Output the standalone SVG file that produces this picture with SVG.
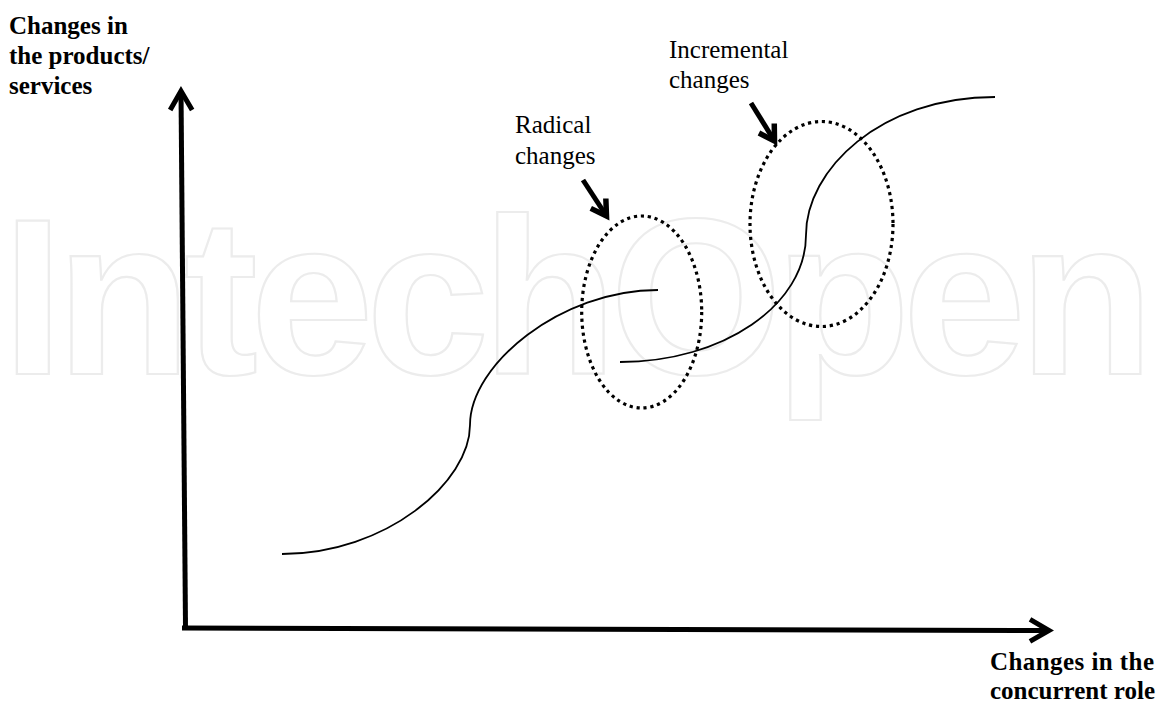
<svg xmlns="http://www.w3.org/2000/svg" width="1159" height="704" viewBox="0 0 1159 704">
<style>
.bg{fill:#ffffff}
.wm{font-family:"Liberation Sans",Arial,sans-serif;font-weight:bold;font-size:222px;fill:#ffffff;stroke:#ececec;stroke-width:2.2}
.axis{fill:none;stroke:#000;stroke-width:5}
.ptr{fill:none;stroke:#000;stroke-width:5}
.curve{fill:none;stroke:#000;stroke-width:1.8}
.ring{fill:none;stroke:#000;stroke-width:3.2;stroke-dasharray:3.2 3.8}
.lbl{font-family:"Liberation Serif","Times New Roman",serif;font-size:25px;fill:#000}
.ttl{font-family:"Liberation Serif","Times New Roman",serif;font-size:25px;font-weight:bold;fill:#000}
</style>
<defs>
<marker id="chev" markerUnits="userSpaceOnUse" viewBox="-30 -20 40 40" markerWidth="40" markerHeight="40" refX="0" refY="0" orient="auto" overflow="visible">
<path d="M-19,-11 L0,0 L-19,11" fill="none" stroke="#000" stroke-width="5"/>
</marker>
<marker id="chev-s" markerUnits="userSpaceOnUse" viewBox="-30 -20 40 40" markerWidth="40" markerHeight="40" refX="0" refY="0" orient="auto" overflow="visible">
<path d="M-15,-9 L0,0 L-15,9" fill="none" stroke="#000" stroke-width="5.5"/>
</marker>
</defs>
<rect class="bg" x="0" y="0" width="1159" height="704"/>
<g id="watermark">
<text class="wm" x="2" y="374" textLength="1152" lengthAdjust="spacing">IntechOpen</text>
</g>
<g id="connectors">
<line class="axis" x1="185.5" y1="627" x2="181" y2="91" marker-end="url(#chev)"/>
<line class="axis" x1="182" y1="628" x2="1049" y2="630.5" marker-end="url(#chev)"/>
<line class="ptr" x1="583" y1="180" x2="606.5" y2="216" marker-end="url(#chev-s)"/>
<line class="ptr" x1="751" y1="103" x2="774.5" y2="141" marker-end="url(#chev-s)"/>
</g>
<g id="curve-radical">
<path class="curve" d="M282,554 C386,554 470,482 470,425 C470,365 560,290 658,290"/>
</g>
<g id="curve-incremental">
<path class="curve" d="M620,362 C723,362 806,305 806,235 C806,170 880,97 995,97"/>
</g>
<g id="radical-zone">
<ellipse class="ring" cx="641.7" cy="312" rx="60" ry="96"/>
</g>
<g id="incremental-zone">
<ellipse class="ring" cx="821.5" cy="224" rx="71.5" ry="102.5"/>
</g>
<g id="label-radical">
<text class="lbl" x="515" y="133">Radical</text>
<text class="lbl" x="515" y="164">changes</text>
</g>
<g id="label-incremental">
<text class="lbl" x="669" y="58">Incremental</text>
<text class="lbl" x="669" y="88">changes</text>
</g>
<g id="y-axis-title">
<text class="ttl" x="9" y="34">Changes in</text>
<text class="ttl" x="9" y="64">the products/</text>
<text class="ttl" x="9" y="94">services</text>
</g>
<g id="x-axis-title">
<text class="ttl" x="990" y="670" textLength="164" lengthAdjust="spacing">Changes in the</text>
<text class="ttl" x="990" y="699">concurrent role</text>
</g>
</svg>
